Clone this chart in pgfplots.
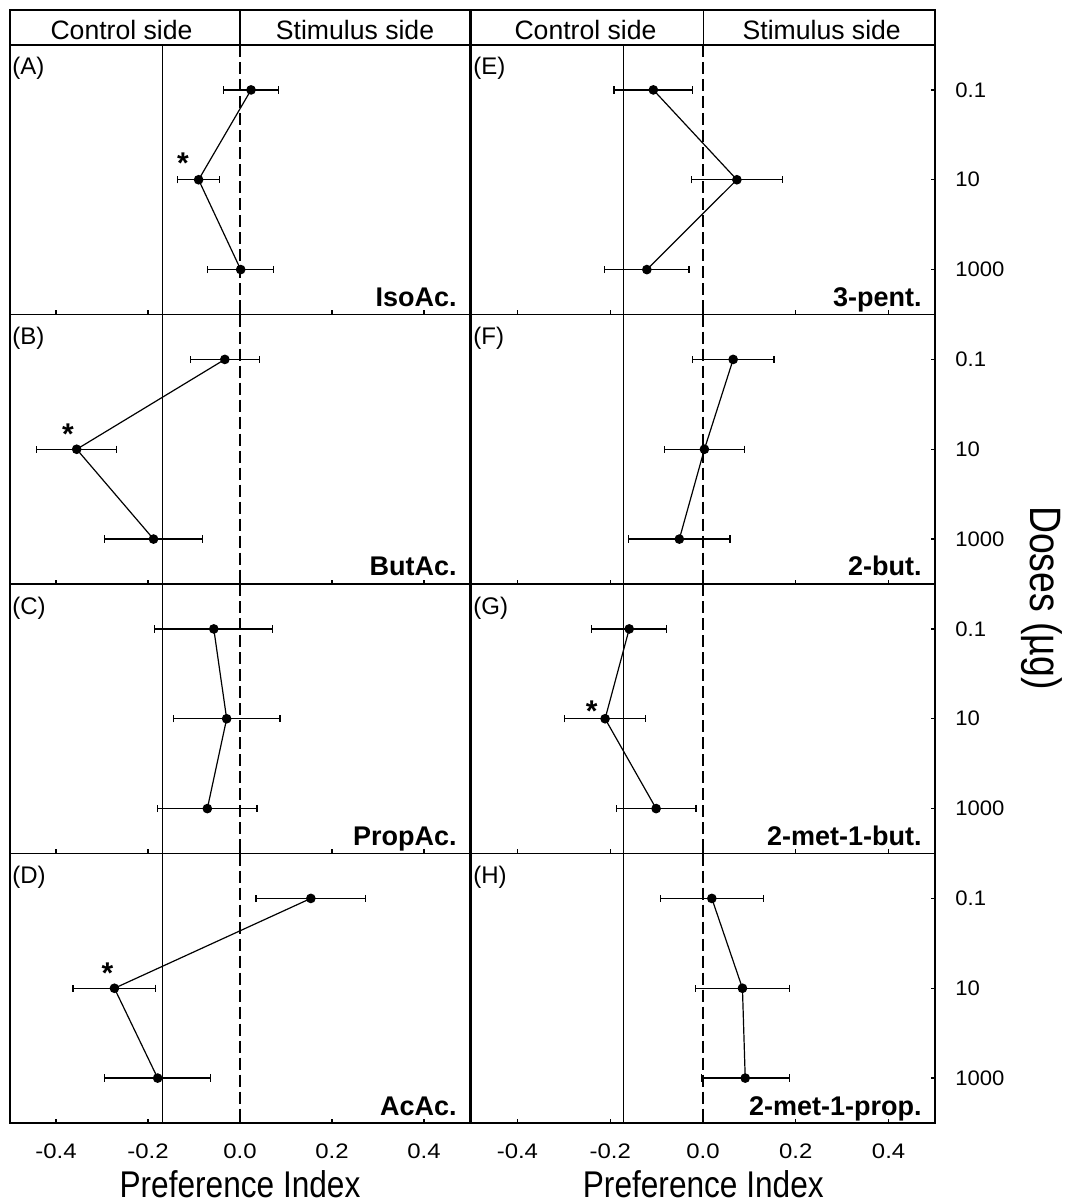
\documentclass[border=0pt]{standalone}
\usepackage{fontspec}
\setmainfont{Liberation Sans}
\newfontfamily\titlefont{Liberation Sans}[FakeStretch=0.85]
\newfontfamily\xtickfont{Liberation Sans}[FakeStretch=1.14]
\newfontfamily\ytickfont{Liberation Sans}[FakeStretch=1.05]
\usepackage{pgfplots}
\pgfplotsset{compat=1.18}
\usepackage{pgfplotstable}

% y = dose index (0: 0.1, 1: 10, 2: 1000), x = preference index, ex = error
\pgfplotstableread{
y x ex
0 0.024 0.059
1 -0.090 0.045
2 0.0015 0.072
}\dataA
\pgfplotstableread{
y x ex
0 -0.033 0.075
1 -0.355 0.087
2 -0.188 0.107
}\dataB
\pgfplotstableread{
y x ex
0 -0.057 0.128
1 -0.029 0.116
2 -0.071 0.108
}\dataC
\pgfplotstableread{
y x ex
0 0.154 0.119
1 -0.273 0.090
2 -0.179 0.115
}\dataD
\pgfplotstableread{
y x ex
0 -0.107 0.085
1 0.073 0.098
2 -0.121 0.091
}\dataE
\pgfplotstableread{
y x ex
0 0.065 0.088
1 0.003 0.086
2 -0.051 0.109
}\dataF
\pgfplotstableread{
y x ex
0 -0.159 0.081
1 -0.211 0.087
2 -0.101 0.086
}\dataG
\pgfplotstableread{
y x ex
0 0.019 0.111
1 0.085 0.101
2 0.091 0.095
}\dataH

\pgfplotsset{
  panel/.style={scale only axis, height=134.75pt,
    xmin=-0.5, xmax=0.5, ymin=-0.5, ymax=2.5, y dir=reverse,
    anchor=north west, axis line style={line width=0.7pt},
    tick align=inside, xtick={-0.4,-0.2,0,0.2,0.4}, xtick pos=left,
    xticklabels=\empty, major tick length=2.2pt,
    tick style={line width=0.6pt, black}, clip=false},
  leftpanel/.style={panel, width=230pt, ytick=\empty},
  rightpanel/.style={panel, width=232pt, ytick={0,1,2},
    yticklabels={0.1,10,1000}, ytick pos=right, yticklabel pos=right,
    yticklabel style={font=\ytickfont\fontsize{10.5}{12}\selectfont,
      anchor=west, inner sep=0pt, xshift=10pt}},
  bottompanel/.style={xticklabels={-0.4,-0.2,0.0,0.2,0.4},
    xticklabel style={font=\xtickfont\fontsize{10.5}{12}\selectfont,
      anchor=north, inner sep=0pt, yshift=-10pt}},
}

\newcommand{\reflines}[1]{%
  \addplot[black, line width=0.6pt] coordinates {(#1,-0.5) (#1,2.5)};
  \addplot[black, line width=0.6pt, dash pattern=on 6pt off 2.5pt] coordinates {(0,-0.5) (0,2.5)};}
\newcommand{\series}[1]{%
  \addplot[black, line width=0.6pt, mark=*, mark size=2.1pt,
    error bars/.cd, x dir=both, x explicit, error mark=|,
    error bar style={line width=0.6pt, solid},
    error mark options={line width=0.6pt, mark size=1.8pt}]
    table[x=x, y=y, x error=ex] {#1};}
\newcommand{\signif}[2]{\node[font=\bfseries\fontsize{15}{17}\selectfont, inner sep=0pt, yshift=-3.3pt] at (axis cs:#1,#2) {*};}
\newcommand{\labels}[3]{%
  \node[anchor=base west, inner sep=0pt, font=\fontsize{12}{14}\selectfont] at ([shift={(1pt,-15pt)}]#1.north west) {#2};
  \node[anchor=base east, inner sep=0pt, font=\bfseries\fontsize{13.5}{16}\selectfont] at ([shift={(-6.5pt,4pt)}]#1.south east) {#3};}

\begin{document}
\begin{tikzpicture}
% header
\draw[line width=0.7pt] (5pt,-5pt) rectangle (235pt,-22.5pt);
\draw[line width=0.6pt] (120pt,-5pt) -- (120pt,-22.5pt);
\draw[line width=0.7pt] (235.5pt,-5pt) rectangle (467.5pt,-22.5pt);
\draw[line width=0.6pt] (351.65pt,-5pt) -- (351.65pt,-22.5pt);
\node[anchor=base, font=\fontsize{13.3}{15}\selectfont] at (60.75pt,-19.65pt) {Control side};
\node[anchor=base, font=\fontsize{13.3}{15}\selectfont] at (177.5pt,-19.65pt) {Stimulus side};
\node[anchor=base, font=\fontsize{13.3}{15}\selectfont] at (292.75pt,-19.65pt) {Control side};
\node[anchor=base, font=\fontsize{13.3}{15}\selectfont] at (410.85pt,-19.65pt) {Stimulus side};

% left column
\begin{axis}[leftpanel, name=pA, at={(5pt,-22.5pt)}]
\reflines{-0.168}
\series{\dataA}
\signif{-0.124}{0.747}
\end{axis}
\labels{pA}{(A)}{IsoAc.}
\begin{axis}[leftpanel, name=pB, at={(5pt,-157.25pt)}]
\reflines{-0.168}
\series{\dataB}
\signif{-0.374}{0.763}
\end{axis}
\labels{pB}{(B)}{ButAc.}
\begin{axis}[leftpanel, name=pC, at={(5pt,-292pt)}]
\reflines{-0.168}
\series{\dataC}
\end{axis}
\labels{pC}{(C)}{PropAc.}
\begin{axis}[leftpanel, bottompanel, name=pD, at={(5pt,-426.75pt)}]
\reflines{-0.168}
\series{\dataD}
\signif{-0.288}{0.763}
\end{axis}
\labels{pD}{(D)}{AcAc.}

% right column
\begin{axis}[rightpanel, name=pE, at={(235.5pt,-22.5pt)}]
\reflines{-0.172}
\series{\dataE}
\end{axis}
\labels{pE}{(E)}{3-pent.}
\begin{axis}[rightpanel, name=pF, at={(235.5pt,-157.25pt)}]
\reflines{-0.172}
\series{\dataF}
\end{axis}
\labels{pF}{(F)}{2-but.}
\begin{axis}[rightpanel, name=pG, at={(235.5pt,-292pt)}]
\reflines{-0.172}
\series{\dataG}
\signif{-0.240}{0.847}
\end{axis}
\labels{pG}{(G)}{2-met-1-but.}
\begin{axis}[rightpanel, bottompanel, name=pH, at={(235.5pt,-426.75pt)}]
\reflines{-0.172}
\series{\dataH}
\end{axis}
\labels{pH}{(H)}{2-met-1-prop.}

\node[anchor=base, font=\titlefont\fontsize{18.6}{22}\selectfont] at (120pt,-598.5pt) {Preference Index};
\node[anchor=base, font=\titlefont\fontsize{18.6}{22}\selectfont] at (351.65pt,-598.5pt) {Preference Index};
\node[rotate=-90, anchor=base, font=\titlefont\fontsize{22}{26}\selectfont] at (515pt,-299pt) {Doses (µg)};

\pgfresetboundingbox
\useasboundingbox (0pt,0pt) rectangle (532pt,-601.5pt);
\end{tikzpicture}
\end{document}
